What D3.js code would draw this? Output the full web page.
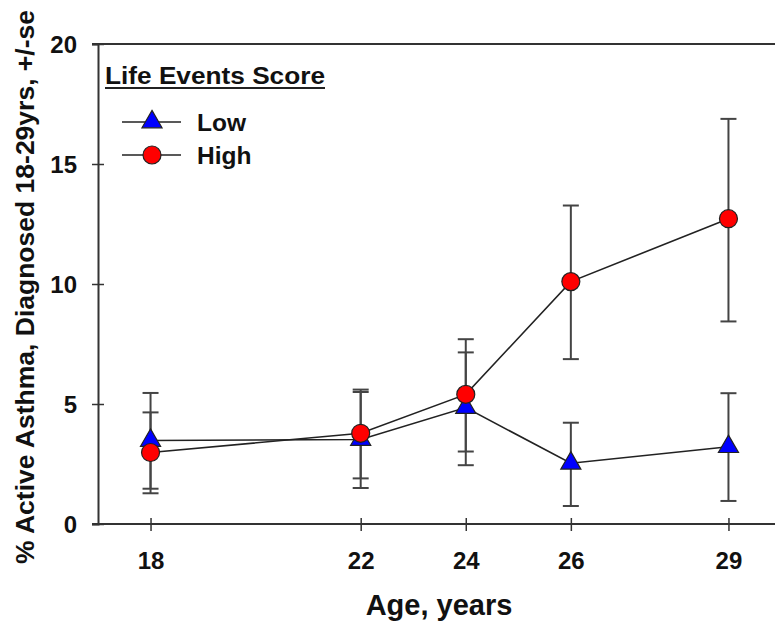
<!DOCTYPE html>
<html>
<head>
<meta charset="utf-8">
<script src="https://cdn.jsdelivr.net/npm/d3@7"></script>
<style>
  body { margin: 0; background: #fff; }
  text { font-family: "Liberation Sans", Arial, sans-serif; font-weight: bold; fill: #111; }
</style>
</head>
<body>
<div id="chart"></div>
<script>
// Data
const ages = [18, 22, 24, 26, 29];
const lowMean = [3.48, 3.52, 4.85, 2.53, 3.22];
const lowLo = [1.47, 1.5, 2.45, 0.75, 0.96];
const lowHi = [5.46, 5.5, 7.15, 4.22, 5.45];
const highMean = [2.98, 3.78, 5.4, 10.1, 12.72];
const highLo = [1.28, 1.9, 3.02, 6.87, 8.44];
const highHi = [4.65, 5.6, 7.7, 13.27, 16.88];
const yTicks = [0, 5, 10, 15, 20];

const width = 775, height = 629;

const svg = d3.select("#chart").append("svg")
    .attr("width", width)
    .attr("height", height);

const x = d3.scaleLinear().domain([17, 30]).range([98, 781]);
const y = d3.scaleLinear().domain([0, 20]).range([524, 44]);

const axisColor = "#333";

// top border
svg.append("line")
    .attr("x1", 92).attr("x2", width)
    .attr("y1", y(20)).attr("y2", y(20))
    .attr("stroke", axisColor).attr("stroke-width", 2);

// Y axis
const yAxis = svg.append("g")
    .attr("transform", `translate(${x(17)},0)`)
    .call(d3.axisLeft(y).tickValues(yTicks).tickSizeOuter(0).tickSize(6));
yAxis.select(".domain").attr("stroke", axisColor).attr("stroke-width", 2);
yAxis.selectAll(".tick line").attr("x1", -6).attr("x2", 6)
    .attr("stroke", axisColor).attr("stroke-width", 1.5);
yAxis.selectAll(".tick text")
    .attr("x", -21).attr("dy", "0.36em")
    .style("font-size", "24px").style("font-family", "Liberation Sans, Arial, sans-serif")
    .style("font-weight", "bold").attr("fill", "#111");

// X axis
const xAxis = svg.append("g")
    .attr("transform", `translate(0,${y(0)})`)
    .call(d3.axisBottom(x).tickValues(ages).tickSizeOuter(0).tickSize(6));
xAxis.select(".domain").remove();
xAxis.append("line")
    .attr("x1", 92).attr("x2", width)
    .attr("stroke", axisColor).attr("stroke-width", 2);
xAxis.selectAll(".tick line").attr("y1", -6).attr("y2", 7)
    .attr("stroke", axisColor).attr("stroke-width", 1.5);
xAxis.selectAll(".tick text")
    .attr("y", 45).attr("dy", 0)
    .style("font-size", "24px").style("font-family", "Liberation Sans, Arial, sans-serif")
    .style("font-weight", "bold").attr("fill", "#111");

// Axis titles
svg.append("text")
    .attr("x", 439).attr("y", 615)
    .attr("text-anchor", "middle")
    .style("font-size", "29px")
    .text("Age, years");

svg.append("text")
    .attr("transform", "translate(34,287) rotate(-90)")
    .attr("text-anchor", "middle")
    .style("font-size", "26.5px")
    .text("% Active Asthma, Diagnosed 18-29yrs, +/-se");

// Series
const series = [
    { name: "Low", mean: lowMean, lo: lowLo, hi: lowHi, fill: "#0000ff", shape: "tri" },
    { name: "High", mean: highMean, lo: highLo, hi: highHi, fill: "#ff0000", shape: "circ" }
];

const cap = 8;
const errG = svg.append("g").attr("stroke", "#444").attr("stroke-width", 2);
series.forEach(s => {
    ages.forEach((a, i) => {
        errG.append("line")
            .attr("x1", x(a)).attr("x2", x(a))
            .attr("y1", y(s.lo[i])).attr("y2", y(s.hi[i]));
        [s.lo[i], s.hi[i]].forEach(v => {
            errG.append("line")
                .attr("x1", x(a) - cap).attr("x2", x(a) + cap)
                .attr("y1", y(v)).attr("y2", y(v));
        });
    });
});

const line = d3.line().x((d, i) => x(ages[i])).y(d => y(d));
series.forEach(s => {
    svg.append("path")
        .datum(s.mean)
        .attr("d", line)
        .attr("fill", "none")
        .attr("stroke", "#222")
        .attr("stroke-width", 1.6);
});

const tri = d3.symbol().type(d3.symbolTriangle).size(175);

function drawMarker(g, s, cx, cy) {
    if (s.shape === "tri") {
        g.append("path")
            .attr("d", tri())
            .attr("transform", `translate(${cx},${cy})`)
            .attr("fill", s.fill).attr("stroke", "#222").attr("stroke-width", 1.2);
    } else {
        g.append("circle")
            .attr("cx", cx).attr("cy", cy).attr("r", 9)
            .attr("fill", s.fill).attr("stroke", "#222").attr("stroke-width", 1.2);
    }
}

series.forEach(s => {
    const g = svg.append("g");
    s.mean.forEach((v, i) => drawMarker(g, s, x(ages[i]), y(v)));
});

// Legend
const legend = svg.append("g");
legend.append("text")
    .attr("x", 105).attr("y", 84)
    .attr("textLength", 220).attr("lengthAdjust", "spacingAndGlyphs")
    .style("font-size", "23px")
    .text("Life Events Score");
legend.append("line")
    .attr("x1", 105).attr("x2", 325)
    .attr("y1", 88).attr("y2", 88)
    .attr("stroke", "#222").attr("stroke-width", 2);

const legendRows = [122, 155];
series.forEach((s, i) => {
    const ly = legendRows[i];
    legend.append("line")
        .attr("x1", 122).attr("x2", 181)
        .attr("y1", ly).attr("y2", ly)
        .attr("stroke", "#222").attr("stroke-width", 1.6);
    drawMarker(legend, s, 152, ly);
    legend.append("text")
        .attr("x", 197).attr("y", ly + 9)
        .style("font-size", "24.5px")
        .text(s.name);
});
</script>
</body>
</html>
